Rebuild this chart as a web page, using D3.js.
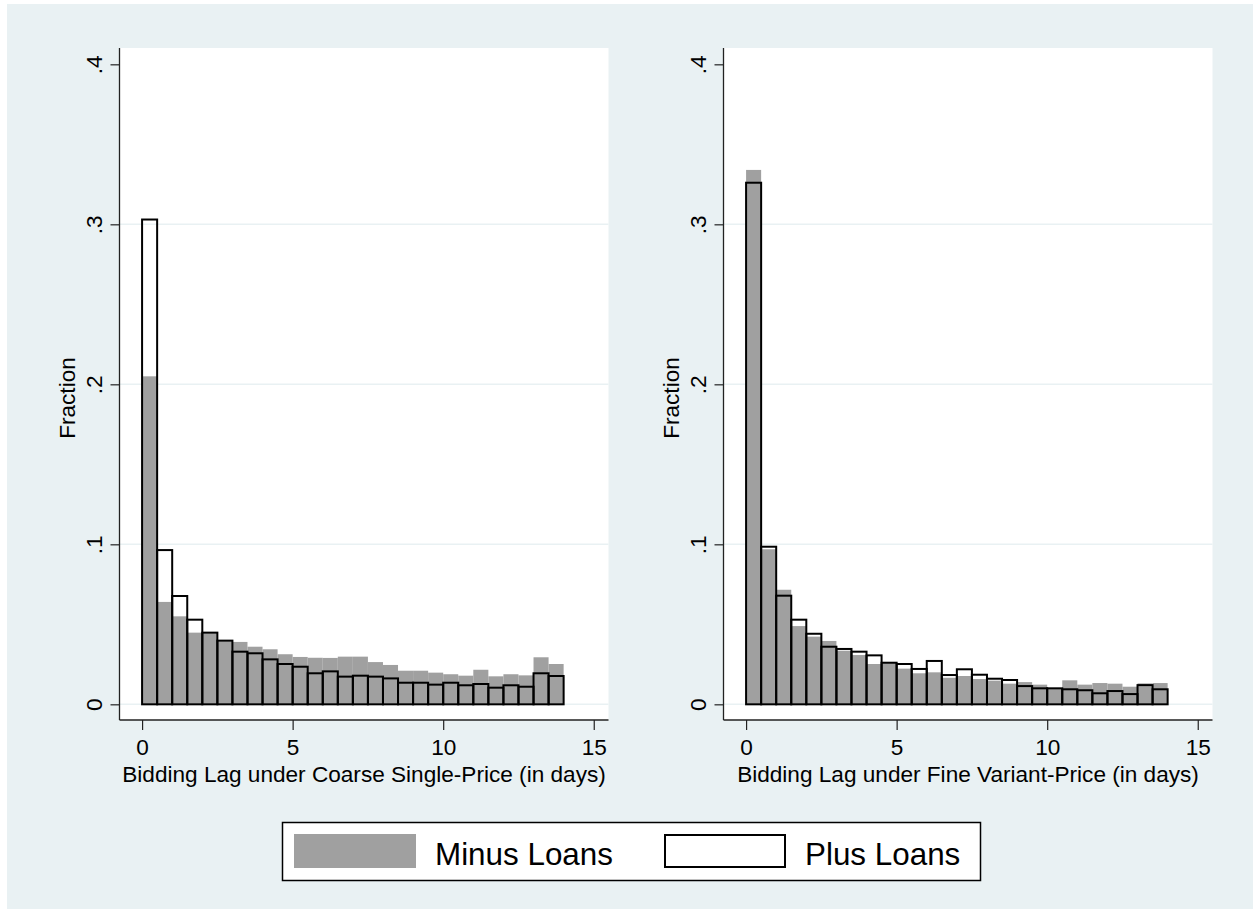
<!DOCTYPE html>
<html>
<head>
<meta charset="utf-8">
<script src="https://cdn.jsdelivr.net/npm/d3@7"></script>
<style>
html,body{margin:0;padding:0;background:#fff;}
svg{display:block;}
text{font-family:"Liberation Sans",Arial,Helvetica,sans-serif;fill:#000;}
</style>
</head>
<body>
<script>
// ---------------- data ----------------
const binStarts = [0,0.5,1,1.5,2,2.5,3,3.5,4,4.5,5,5.5,6,6.5,7,7.5,8,8.5,9,9.5,10,10.5,11,11.5,12,12.5,13,13.5];
const binWidth = 0.5;

const leftMinus = [0.205,0.064,0.055,0.0448,0.0445,0.0395,0.039,0.036,0.0344,0.0313,0.0296,0.0291,0.029,0.0298,0.0298,0.0264,0.0246,0.021,0.021,0.0198,0.0188,0.0179,0.0216,0.0175,0.0188,0.0181,0.0294,0.0252];
const leftPlus  = [0.303,0.0964,0.0677,0.0529,0.0448,0.0398,0.0329,0.0319,0.0281,0.0252,0.0235,0.0194,0.0206,0.0173,0.0179,0.0173,0.0162,0.0135,0.0135,0.0123,0.0135,0.0119,0.0127,0.0104,0.0119,0.011,0.0194,0.0177];
const rightMinus = [0.334,0.0969,0.0716,0.0489,0.0423,0.0396,0.0335,0.0308,0.0252,0.0258,0.0223,0.0194,0.020,0.0166,0.0177,0.0158,0.0148,0.0129,0.0139,0.0123,0.0098,0.015,0.0123,0.0133,0.0129,0.011,0.0131,0.0133];
const rightPlus  = [0.326,0.0985,0.0679,0.0529,0.0441,0.036,0.0346,0.0329,0.0306,0.026,0.0252,0.0221,0.0271,0.0183,0.0219,0.0185,0.016,0.0152,0.0114,0.010,0.010,0.0094,0.0088,0.0069,0.0083,0.0064,0.012,0.0094];

const xTicks = [0,5,10,15];
const xTickLabels = ["0","5","10","15"];
const yTicks = [0,0.1,0.2,0.3,0.4];
const yTickLabels = ["0",".1",".2",".3",".4"];
const gridTicks = [0,0.1,0.2,0.3];
const panelTitles = ["Bidding Lag under Coarse Single-Price (in days)","Bidding Lag under Fine Variant-Price (in days)"];
const yTitle = "Fraction";
const seriesNames = ["Minus Loans","Plus Loans"];

// ---------------- layout ----------------
const W = 1253, H = 909;
const BG = "#e9f1f3", GRAY = "#a0a0a0";
const FS = "22.6px";
const svg = d3.select("body").append("svg").attr("width", W).attr("height", H);
svg.append("rect").attr("x",0).attr("y",0).attr("width",W).attr("height",H).attr("fill","#fff");
svg.append("rect").attr("x",7).attr("y",4).attr("width",W-7).attr("height",H-4).attr("fill",BG);

const panels = [
  {x0:119.5, minus:leftMinus, plus:leftPlus, title:panelTitles[0]},
  {x0:723.5, minus:rightMinus, plus:rightPlus, title:panelTitles[1]}
];
const plotW = 489, plotTop = 48, plotBottom = 720;

panels.forEach(p => {
  const x = d3.scaleLinear().domain([-0.75, 15.49]).range([p.x0, p.x0 + plotW]);
  const y = d3.scaleLinear().domain([-0.0098, 0.4102]).range([plotBottom, plotTop]);
  const g = svg.append("g");

  g.append("rect").attr("x",p.x0).attr("y",plotTop).attr("width",plotW).attr("height",plotBottom-plotTop).attr("fill","#fff");

  g.selectAll(".grid").data(gridTicks).join("line")
    .attr("x1",p.x0).attr("x2",p.x0+plotW)
    .attr("y1",d=>y(d)).attr("y2",d=>y(d))
    .attr("stroke",BG).attr("stroke-width",1.6);

  // minus bars (gray filled)
  g.selectAll(".minus").data(p.minus).join("rect")
    .attr("x",(d,i)=>x(binStarts[i]))
    .attr("width",(d,i)=>x(binStarts[i]+binWidth)-x(binStarts[i]))
    .attr("y",d=>y(d)).attr("height",d=>y(0)-y(d))
    .attr("fill",GRAY);

  // plus bars (outlined)
  g.selectAll(".plus").data(p.plus).join("rect")
    .attr("x",(d,i)=>x(binStarts[i]))
    .attr("width",(d,i)=>x(binStarts[i]+binWidth)-x(binStarts[i]))
    .attr("y",d=>y(d)).attr("height",d=>y(0)-y(d))
    .attr("fill","none").attr("stroke","#000").attr("stroke-width",2);

  // y axis
  const yAxis = d3.axisLeft(y).tickValues(yTicks).tickFormat((d,i)=>yTickLabels[i]).tickSize(9).tickPadding(9);
  const ya = g.append("g").attr("transform",`translate(${p.x0},0)`).call(yAxis);
  ya.select(".domain").attr("d",`M0,${plotTop}V${plotBottom}`).attr("stroke","#222").attr("stroke-width",1.3);
  ya.selectAll(".tick line").attr("stroke","#222").attr("stroke-width",1.2);
  ya.selectAll(".tick text")
    .attr("x",null).attr("dy",null)
    .attr("transform","translate(-18,0) rotate(-90)")
    .attr("text-anchor","middle").attr("dominant-baseline","auto")
    .style("font-size",FS).style("font-family",'"Liberation Sans",Arial,sans-serif').attr("fill","#000");

  // x axis
  const xAxis = d3.axisBottom(x).tickValues(xTicks).tickFormat((d,i)=>xTickLabels[i]).tickSize(10).tickPadding(6);
  const xa = g.append("g").attr("transform",`translate(0,${plotBottom})`).call(xAxis);
  xa.select(".domain").attr("d",`M${p.x0},0H${p.x0+plotW}`).attr("stroke","#222").attr("stroke-width",1.3);
  xa.selectAll(".tick line").attr("stroke","#222").attr("stroke-width",1.2);
  xa.selectAll(".tick text").attr("y",null).attr("dy",null).attr("transform","translate(0,35)")
    .style("font-size",FS).style("font-family",'"Liberation Sans",Arial,sans-serif').attr("fill","#000");

  // titles
  g.append("text").attr("x",p.x0+plotW/2).attr("y",782).attr("text-anchor","middle")
    .style("font-size",FS).text(p.title);
  g.append("text").attr("transform",`translate(${p.x0-44.5},${(plotTop+plotBottom)/2 + 14}) rotate(-90)`)
    .attr("text-anchor","middle").style("font-size",FS).text(yTitle);
});

// ---------------- legend ----------------
const lg = svg.append("g");
lg.append("rect").attr("x",282.5).attr("y",822.5).attr("width",698).attr("height",58)
  .attr("fill","#fff").attr("stroke","#000").attr("stroke-width",1.5);
lg.append("rect").attr("x",294).attr("y",834).attr("width",122).attr("height",34).attr("fill",GRAY);
lg.append("text").attr("x",435).attr("y",865).style("font-size","31.4px").text(seriesNames[0]);
lg.append("rect").attr("x",665).attr("y",835).attr("width",120).attr("height",32)
  .attr("fill","#fff").attr("stroke","#000").attr("stroke-width",2);
lg.append("text").attr("x",805).attr("y",865).style("font-size","31.4px").text(seriesNames[1]);
</script>
</body>
</html>
